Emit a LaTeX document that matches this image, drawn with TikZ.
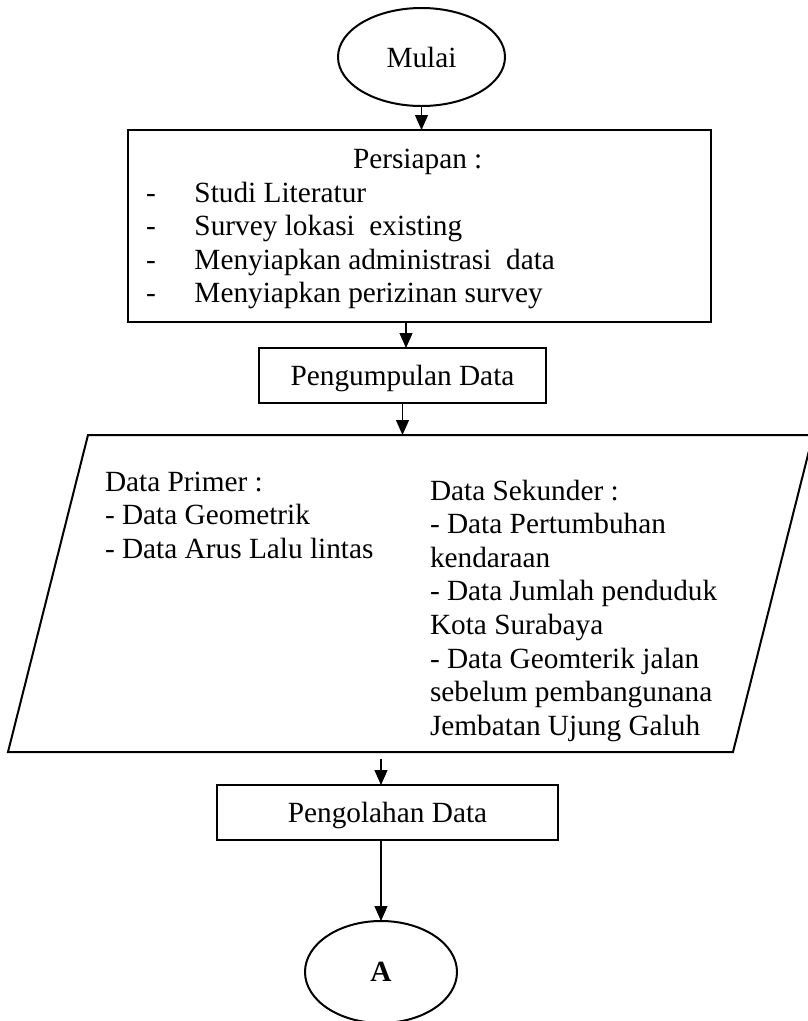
\documentclass[tikz,border=0pt]{standalone}
\usepackage{fontspec}
\setmainfont{Liberation Serif}
\usetikzlibrary{shapes.geometric,arrows.meta}
\begin{document}
\begin{tikzpicture}[x=1pt,y=-1pt,
  every node/.style={font=\fontsize{29.3}{33.6}\selectfont, inner sep=0pt, outer sep=0pt},
  term/.style={ellipse, draw, line width=2pt, text depth=0pt},
  procbox/.style={rectangle, draw, line width=2pt, text depth=0pt},
  flow/.style={-{Triangle[width=13pt,length=15pt]}, line width=1.1pt},
  listtext/.style={align=left, anchor=north west},
  shapeline/.style={draw, line width=2pt, line join=miter}
]
\useasboundingbox (0,0) rectangle (807,1021);

% terminals
\node[term, minimum width=167pt, minimum height=98pt] (mulai) at (421.5,57) {Mulai};
\node[term, minimum width=152pt, minimum height=102pt] (a) at (381,972) {\textbf{A}};

% Persiapan box
\node[procbox, minimum width=583pt, minimum height=192pt] (persiapan) at (419.5,226) {};
\node[anchor=base west] (persT) at (353,168) {Persiapan :};
\node[listtext] (persL) at (146,181.8) {\makebox[48.5pt][l]{-}Studi Literatur\\
\makebox[48.5pt][l]{-}Survey lokasi\ \ existing\\
\makebox[48.5pt][l]{-}Menyiapkan administrasi\ \ data\\
\makebox[48.5pt][l]{-}Menyiapkan perizinan survey};

% Pengumpulan Data
\node[procbox, minimum width=287pt, minimum height=55pt] (pengumpulan) at (402.5,375.5) {Pengumpulan Data};

% Data parallelogram
\coordinate (ptl) at (88,435);
\coordinate (ptr) at (813,435);
\coordinate (pbr) at (733,752);
\coordinate (pbl) at (8,752);
\draw[shapeline] (ptl) -- (ptr) -- (pbr) -- (pbl) -- cycle;
\coordinate (dtop) at (403,435);
\coordinate (dbot) at (381,759);
\node[listtext] (primer) at (105,471.8) {Data Primer :\\
- Data Geometrik\\
- Data Arus Lalu lintas};
\node[listtext] (sekunder) at (430,479.8) {Data Sekunder :\\
- Data Pertumbuhan\\
kendaraan\\
- Data Jumlah penduduk\\
Kota Surabaya\\
- Data Geomterik jalan\\
sebelum pembangunana\\
Jembatan Ujung Galuh};

% Pengolahan Data
\node[procbox, minimum width=341pt, minimum height=55pt] (pengolahan) at (387.5,812.5) {Pengolahan Data};

% connectors
\draw[flow] (mulai.south) -- (mulai.south |- persiapan.north);
\draw[flow] ([xshift=3.5pt]pengumpulan.north |- persiapan.south) -- ([xshift=3.5pt]pengumpulan.north);
\draw[flow] (pengumpulan.south) -- (pengumpulan.south |- dtop);
\draw[flow] (dbot) -- (dbot |- pengolahan.north);
\draw[flow] (a.north |- pengolahan.south) -- (a.north);
\end{tikzpicture}
\end{document}
